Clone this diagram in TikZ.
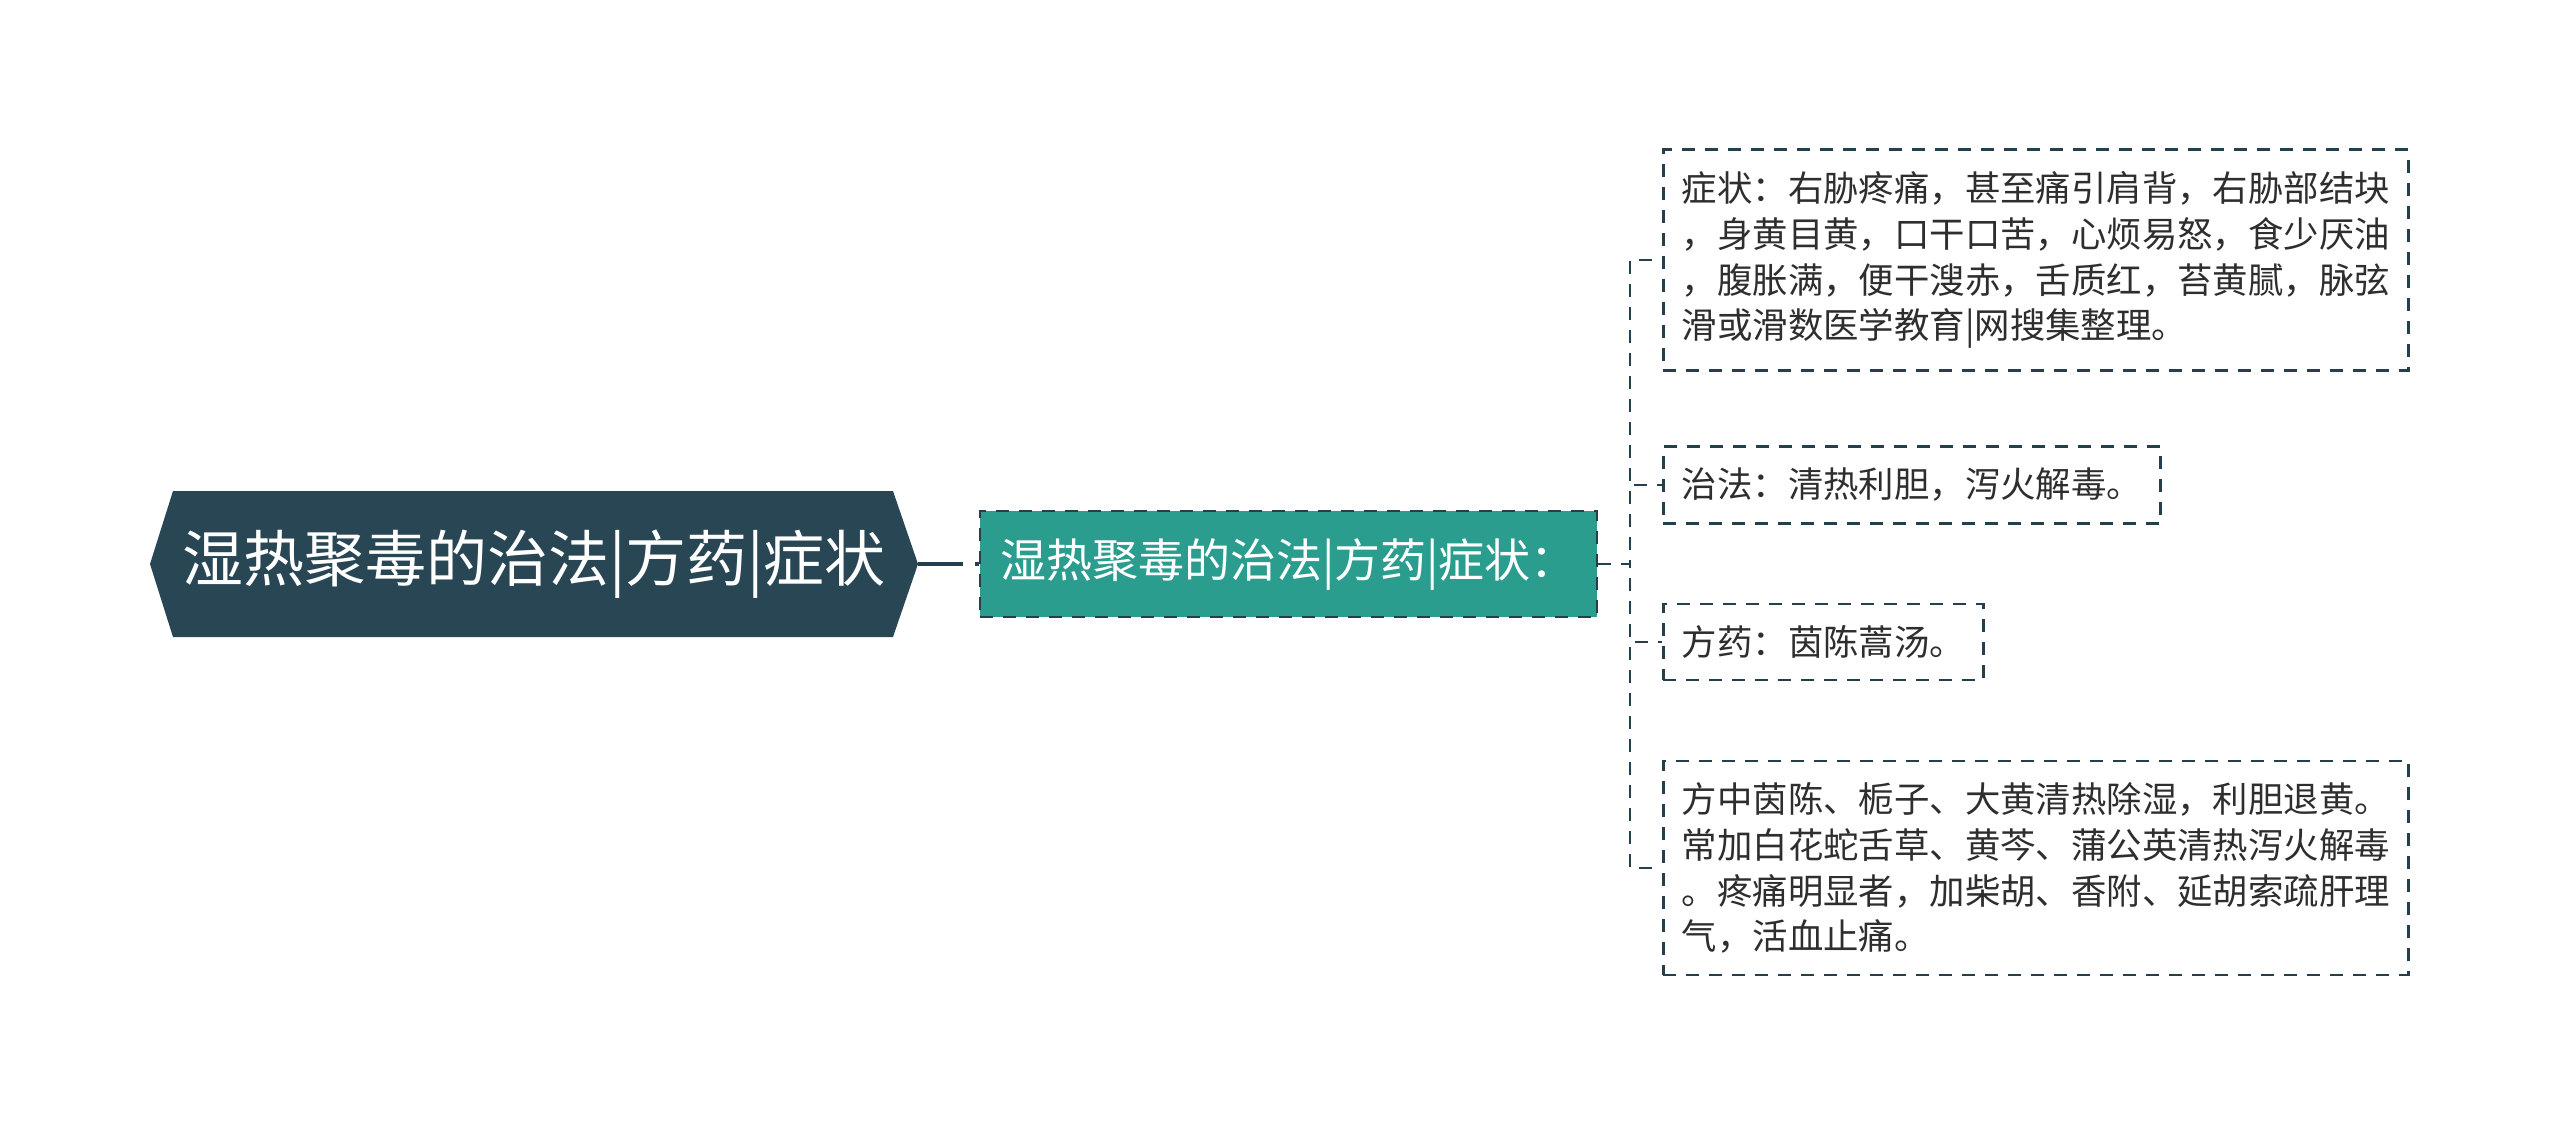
\documentclass[tikz,border=0pt]{standalone}
\usepackage{fontspec}
\setmainfont{Noto Sans CJK SC}
\usetikzlibrary{calc}
\definecolor{rootfill}{HTML}{284654}
\definecolor{childfill}{HTML}{2A9D8F}
\definecolor{edgecol}{HTML}{263F4C}
\definecolor{leaftext}{HTML}{2E2E2E}
\begin{document}
\begin{tikzpicture}[x=0.5pt,y=-0.5pt,
  dashline/.style={draw=edgecol, line width=1.25pt, dash pattern=on 6.5pt off 5pt},
  rootlabel/.style={text=white, inner sep=0pt, minimum width=384pt, minimum height=73pt, font=\fontsize{30.5}{36}\selectfont},
  childbox/.style={dashline, fill=childfill, text=white, inner sep=0pt, minimum width=308.5pt, minimum height=53pt, font=\fontsize{23}{28}\selectfont},
  leafbox/.style={dashline, fill=white, anchor=west, align=left, text=leaftext, inner xsep=9.3pt, inner ysep=10.8pt, font=\fontsize{17.7}{22.9}\selectfont},
  rootlink/.style={draw=edgecol, line width=2pt, dash pattern=on 22.5pt off 6pt}]
\useasboundingbox[fill=white] (0,0) rectangle (2560,1130);
% root hexagon
\fill[rootfill] (150,564) -- (173,491) -- (893,491) -- (918,564) -- (893,637) -- (173,637) -- cycle;
\node[rootlabel] (root) at (534,564) {湿热聚毒的治法|方药|症状};
% child
\node[childbox] (child) at (1288.5,564) {湿热聚毒的治法|方药|症状：};
\draw[rootlink] (root.east) -- (child.west);
% leaves
\node[leafbox] (l1) at (1662,260) {症状：右胁疼痛，甚至痛引肩背，右胁部结块\\，身黄目黄，口干口苦，心烦易怒，食少厌油\\，腹胀满，便干溲赤，舌质红，苔黄腻，脉弦\\滑或滑数医学教育|网搜集整理。};
\node[leafbox] (l2) at (1662,485) {治法：清热利胆，泻火解毒。};
\node[leafbox] (l3) at (1662,642) {方药：茵陈蒿汤。};
\node[leafbox] (l4) at (1662,868) {方中茵陈、栀子、大黄清热除湿，利胆退黄。\\常加白花蛇舌草、黄芩、蒲公英清热泻火解毒\\。疼痛明显者，加柴胡、香附、延胡索疏肝理\\气，活血止痛。};
% connectors
\coordinate (bus) at (1630,564);
\draw[dashline] (child.east) -- (bus) |- (l1.west);
\draw[dashline] (child.east) -- (bus) |- (l2.west);
\draw[dashline] (child.east) -- (bus) |- (l3.west);
\draw[dashline] (child.east) -- (bus) |- (l4.west);
\end{tikzpicture}
\end{document}
